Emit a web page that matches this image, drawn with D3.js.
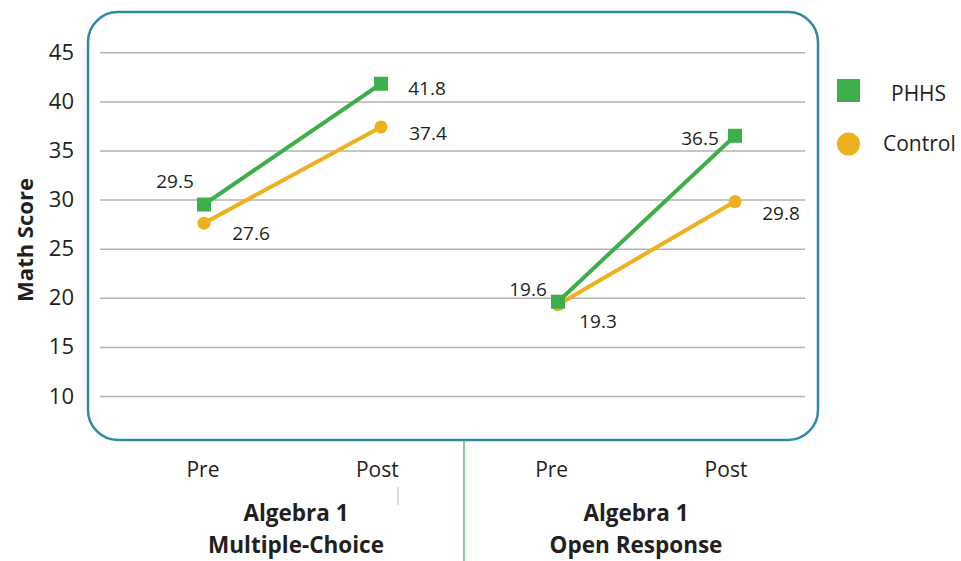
<!DOCTYPE html>
<html><head><meta charset="utf-8">
<script src="https://cdn.jsdelivr.net/npm/d3@7"></script>
<style>body{margin:0;background:#fff}svg{display:block}text{font-family:"Open Sans",sans-serif;fill:#231f20}</style>
</head><body>
<svg id="c" width="961" height="561"></svg>
<script>
const categories = ["MC-Pre","MC-Post","OR-Pre","OR-Post"];
const tickLabels = ["Pre","Post","Pre","Post"];
const groups = [["Algebra 1","Multiple-Choice"],["Algebra 1","Open Response"]];
const phhs = [29.5, 41.8, 19.6, 36.5];
const control = [27.6, 37.4, 19.3, 29.8];
const yTicks = [10,15,20,25,30,35,40,45];

const svg = d3.select("#c");
const y = d3.scaleLinear().domain([10,45]).range([396,52.3]);
const x = d3.scalePoint().domain(categories).range([204,735]);
const xl = d3.scalePoint().domain(categories).range([203,726]);
const gx = d3.scalePoint().domain([0,1]).range([296,636]);
const green = "#3daf4a", orange = "#eeb11e";

// frame
svg.append("rect").attr("x",88).attr("y",12).attr("width",730).attr("height",428)
  .attr("rx",30).attr("ry",30).attr("fill","none").attr("stroke","#2e88a6").attr("stroke-width",2.5);

// grid
const yAxis = d3.axisLeft(y).tickValues(yTicks).tickSize(-705).tickPadding(26).tickFormat(d3.format("d"));
const ga = svg.append("g").attr("transform","translate(100,0)").call(yAxis);
ga.select(".domain").remove();
ga.selectAll(".tick line").attr("stroke","#b3b3b3").attr("stroke-width",1.5);
ga.selectAll(".tick text").attr("font-size",22).attr("fill","#231f20").attr("font-family","Open Sans");

// y label
svg.append("text").attr("transform","translate(33,240) rotate(-90)").attr("text-anchor","middle")
  .attr("font-size",22).attr("font-weight","bold").text("Math Score");

// separators
svg.append("line").attr("x1",464).attr("x2",464).attr("y1",440).attr("y2",561).attr("stroke",green).attr("stroke-width",1.2);
svg.append("line").attr("x1",398).attr("x2",398).attr("y1",487).attr("y2",505).attr("stroke","#d0d0d0").attr("stroke-width",1.5);

// x labels
svg.selectAll(".xl").data(categories).enter().append("text")
  .attr("x",d=>xl(d)).attr("y",477).attr("text-anchor","middle").attr("font-size",21)
  .text((d,i)=>tickLabels[i]);
groups.forEach((g,i)=>{
  g.forEach((t,j)=>{
    svg.append("text").attr("x",gx(i)).attr("y",521+j*32).attr("text-anchor","middle")
      .attr("font-size",22.5).attr("font-weight","bold").text(t);
  });
});

// lines
const line = d3.line().x(d=>x(d.c)).y(d=>y(d.v));
function seg(vals, idx){ return idx.map(i=>({c:categories[i],v:vals[i]})); }
[[control,orange],[phhs,green]].forEach(([vals,col])=>{
  [[0,1],[2,3]].forEach(p=>{
    svg.append("path").attr("d",line(seg(vals,p))).attr("fill","none").attr("stroke",col).attr("stroke-width",4);
  });
});
svg.selectAll(".cc").data(control).enter().append("circle")
  .attr("cx",(d,i)=>x(categories[i])).attr("cy",d=>y(d)).attr("r",6.5).attr("fill",orange);
svg.selectAll(".sq").data(phhs).enter().append("rect")
  .attr("x",(d,i)=>x(categories[i])-7).attr("y",d=>y(d)-7).attr("width",14).attr("height",14).attr("fill",green);

// value labels
const pOff = [[-29,-17],[46,11],[-30,-6],[-35,9]];
const cOff = [[47,17],[47,13],[40,23],[46,18]];
phhs.forEach((v,i)=>svg.append("text").attr("x",x(categories[i])+pOff[i][0]).attr("y",y(v)+pOff[i][1])
  .attr("text-anchor","middle").attr("font-size",19).text(v.toFixed(1)));
control.forEach((v,i)=>svg.append("text").attr("x",x(categories[i])+cOff[i][0]).attr("y",y(v)+cOff[i][1])
  .attr("text-anchor","middle").attr("font-size",19).text(v.toFixed(1)));

// legend
svg.append("rect").attr("x",837).attr("y",79).attr("width",23).attr("height",23).attr("fill",green);
svg.append("text").attr("x",891).attr("y",101).attr("font-size",21).text("PHHS");
svg.append("circle").attr("cx",848.5).attr("cy",144).attr("r",11.5).attr("fill",orange);
svg.append("text").attr("x",883).attr("y",151).attr("font-size",21).text("Control");
</script>
</body></html>
